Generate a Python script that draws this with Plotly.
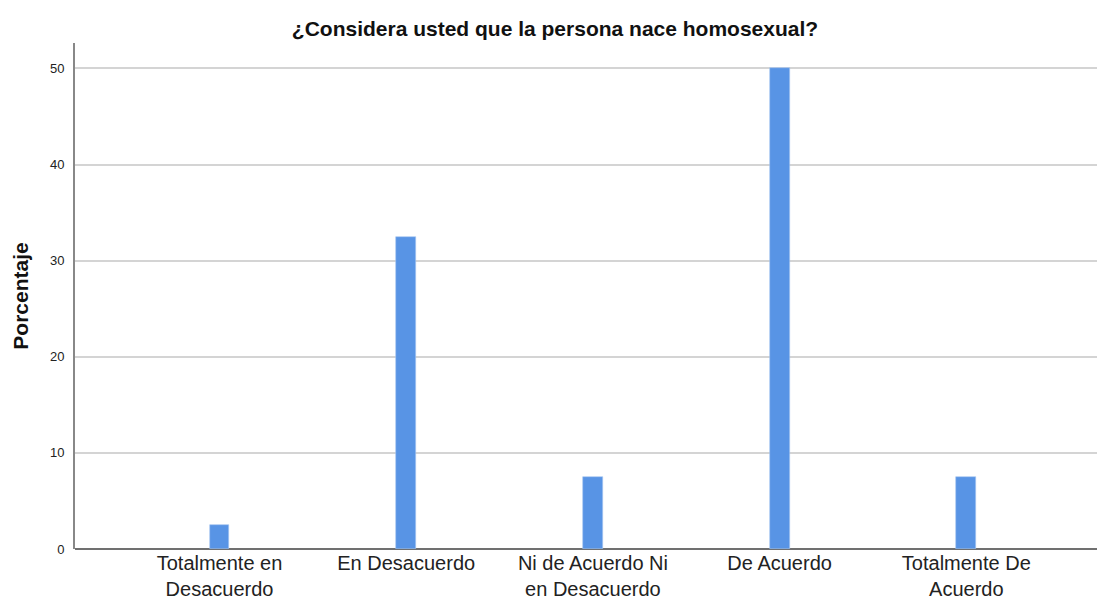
import plotly.graph_objects as go

categories = ["Totalmente en<br>Desacuerdo", "En Desacuerdo", "Ni de Acuerdo Ni<br>en Desacuerdo", "De Acuerdo", "Totalmente De<br>Acuerdo"]
values = [2.5, 32.5, 7.5, 50.0, 7.5]
y_ticks = [0, 10, 20, 30, 40, 50]

x_pos = list(range(len(categories)))

fig = go.Figure(go.Bar(
    x=x_pos, y=values, width=0.107,
    marker=dict(color="#5894e5", line=dict(color="#a8c8f0", width=0.6)),
    hoverinfo="skip",
))

fig.update_layout(
    width=1099, height=600,
    margin=dict(l=75, r=2, t=43, b=51, autoexpand=False),
    paper_bgcolor="white", plot_bgcolor="white",
    font=dict(family="Liberation Sans, Arial, sans-serif", color="#222"),
    title=dict(text="<b>¿Considera usted que la persona nace homosexual?</b>",
               x=0.505, xanchor="center", y=0.953, yanchor="middle",
               font=dict(size=21, color="#111")),
    showlegend=False,
    bargap=0,
)
fig.update_xaxes(
    tickmode="array", tickvals=x_pos, ticktext=categories,
    range=[-0.774, 4.70], automargin=False,
    showgrid=False, zeroline=False, showline=False,
    ticks="", tickfont=dict(size=20, color="#222"), ticklabelstandoff=0,
)
fig.update_yaxes(
    range=[0, 52.65], tickvals=y_ticks, automargin=False,
    showgrid=True, gridcolor="#d4d4d4", gridwidth=1.5,
    zeroline=True, zerolinecolor="#707070", zerolinewidth=2,
    showline=True, linecolor="#888888", linewidth=2,
    ticks="", tickfont=dict(size=13, color="#222"), ticklabelstandoff=6,
    title=dict(text="<b>Porcentaje</b>", font=dict(size=21, color="#111"), standoff=16),
)
fig.write_html("out.html", config={"displayModeBar": False},
               post_script="document.body.style.margin='0';document.body.style.overflow='hidden';")
